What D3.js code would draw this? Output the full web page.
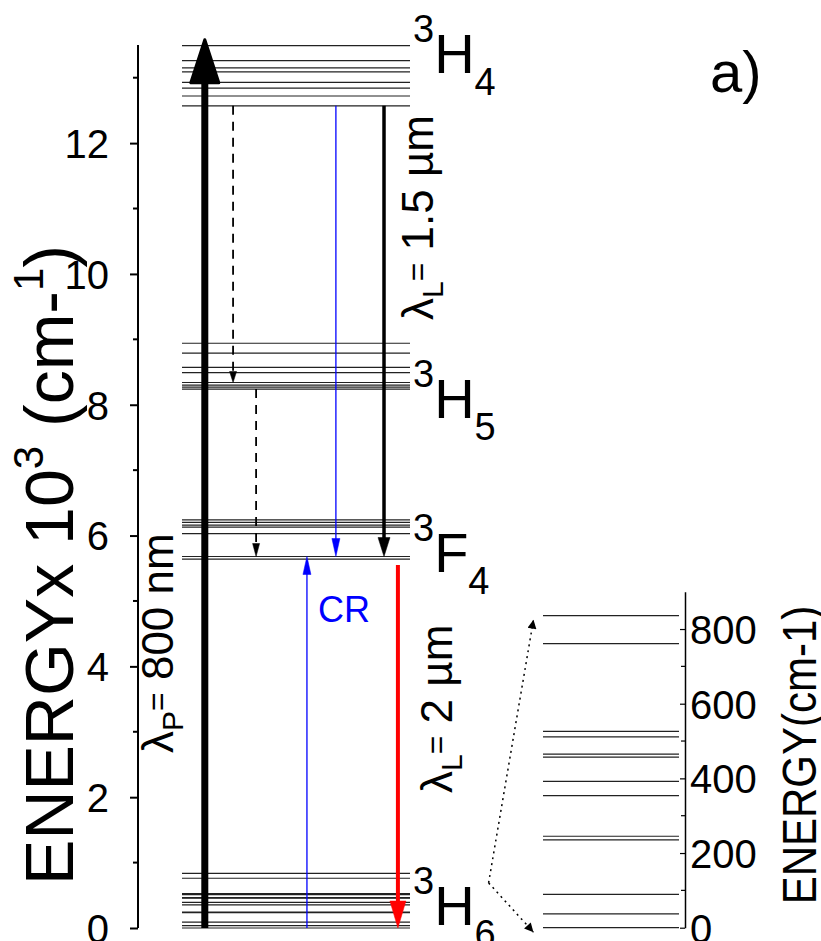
<!DOCTYPE html>
<html>
<head>
<meta charset="utf-8">
<style>
  html, body { margin: 0; padding: 0; background: #fff; }
  svg text { font-family: "Liberation Sans", Arial, sans-serif; fill: #000; }
  .axis path, .axis line { stroke: #000; }
  .axis text { font-family: "Liberation Sans", Arial, sans-serif; }
</style>
<script src="https://cdn.jsdelivr.net/npm/d3@7"></script>
</head>
<body>
<div id="main"></div>
<script>
// energy levels in cm-1
var levelsH6 = [0, 37, 89, 235, 245, 354, 392, 457, 465, 511, 526, 761, 836];
var levelsF4 = [5640, 5680, 6030, 6130, 6160, 6200, 6240];
var levelsH5 = [8240, 8270, 8300, 8340, 8490, 8570, 8790, 8940];
var levelsH4 = [12570, 12720, 12840, 12930, 13090, 13150, 13260, 13490];

var mainTicks = [0, 2, 4, 6, 8, 10, 12];
var mainMinor = [1, 3, 5, 7, 9, 11, 13];
var insetTicks = [0, 200, 400, 600, 800];
var insetMinor = [100, 300, 500, 700];

// term labels: [sup, letter, sub, energy x10^3 of baseline]
var terms = [
  ["3", "H", "4", 13.07],
  ["3", "H", "5", 7.80],
  ["3", "F", "4", 5.44],
  ["3", "H", "6", 0.05]
];

// transitions: position across the level (0..1), from, to (x10^3 cm-1)
var transitions = [
  {name: "pump",  pos: 0.10,  from: 0,     to: 13.58, color: "#000",    w: 7,   head: [43, 28], dash: null},
  {name: "nr1",   pos: 0.224, from: 12.57, to: 8.34,  color: "#000",    w: 1.8, head: [11, 7],  dash: "9,7"},
  {name: "nr2",   pos: 0.325, from: 8.24,  to: 5.68,  color: "#000",    w: 1.8, head: [13, 7],  dash: "9,7"},
  {name: "crDn",  pos: 0.675, from: 12.57, to: 5.68,  color: "#0000ff", w: 1.3, head: [18, 8],  dash: null},
  {name: "las15", pos: 0.886, from: 12.57, to: 5.68,  color: "#000",    w: 3.5, head: [19, 12], dash: null},
  {name: "crUp",  pos: 0.548, from: 0,     to: 5.68,  color: "#0000ff", w: 1.3, head: [18, 8],  dash: null},
  {name: "las2",  pos: 0.947, from: 5.55,  to: 0,     color: "#ff0000", w: 4,   head: [27, 16], dash: null}
];

var width = 821, height = 941;

var svg = d3.select("#main").append("svg")
  .attr("width", width).attr("height", height);

var y = d3.scaleLinear().domain([0, 13.5]).range([928, 45]);
var x = d3.scaleLinear().domain([0, 1]).range([182, 410]);
var yIn = d3.scaleLinear().domain([0, 900]).range([927.7, 591.7]);
var xIn = d3.scaleLinear().domain([0, 1]).range([543, 679]);

// main axis
var axisX = 138;
var gAx = svg.append("g").attr("class", "axis")
  .attr("transform", "translate(" + axisX + ",0)");
gAx.call(d3.axisLeft(y).tickValues(mainTicks).tickSize(8).tickPadding(21)
  .tickFormat(d3.format("d")));
gAx.select(".domain").attr("d", "M0," + y(13.5) + "V" + y(0)).attr("stroke-width", 2);
gAx.selectAll(".tick line").attr("stroke-width", 2);
gAx.selectAll(".tick text").attr("font-size", 40).attr("dy", "0.36em");
gAx.selectAll(".minor").data(mainMinor).enter().append("line")
  .attr("class", "minor")
  .attr("x1", -5).attr("x2", 0)
  .attr("y1", function(d) { return y(d); })
  .attr("y2", function(d) { return y(d); })
  .attr("stroke", "#000").attr("stroke-width", 2);

// main axis title
var title = svg.append("text")
  .attr("transform", "translate(73,565) rotate(-90)")
  .attr("text-anchor", "middle")
  .attr("font-size", 68);
title.append("tspan").text("ENERGYx 10");
title.append("tspan").attr("font-size", 42).attr("dy", -30).text("3");
title.append("tspan").attr("dy", 30).text(" (cm-");
title.append("tspan").attr("font-size", 42).attr("dy", -30).text("1");
title.append("tspan").attr("dy", 30).text(")");

// levels
var allLevels = [].concat(levelsH6, levelsF4, levelsH5, levelsH4);
svg.append("g").selectAll("line").data(allLevels).enter().append("line")
  .attr("x1", x(0)).attr("x2", x(1))
  .attr("y1", function(d) { return y(d / 1000); })
  .attr("y2", function(d) { return y(d / 1000); })
  .attr("stroke", "#222").attr("stroke-width", 1.2);

// transitions
function arrow(t) {
  var xp = x(t.pos);
  var y0 = y(t.from), y1 = y(t.to);
  var dir = y1 < y0 ? -1 : 1;
  var len = t.head[0], hw = t.head[1] / 2;
  var g = svg.append("g");
  g.append("line")
    .attr("x1", xp).attr("x2", xp)
    .attr("y1", y0).attr("y2", y1 - dir * len * 0.8)
    .attr("stroke", t.color).attr("stroke-width", t.w)
    .attr("stroke-dasharray", t.dash);
  g.append("path")
    .attr("d", "M" + xp + "," + y1 + "L" + (xp - hw) + "," + (y1 - dir * len) +
      "L" + (xp + hw) + "," + (y1 - dir * len) + "Z")
    .attr("fill", t.color).attr("stroke", t.color)
    .attr("stroke-linejoin", "round")
    .attr("stroke-width", t.name == "pump" ? 3 : 0.5);
}
transitions.forEach(arrow);

// term labels
terms.forEach(function(t) {
  var tx = svg.append("text").attr("x", 413).attr("y", y(t[3]));
  tx.append("tspan").attr("font-size", 38).attr("dy", -31).text(t[0]);
  tx.append("tspan").attr("font-size", 56).attr("dy", 31).text(t[1]);
  tx.append("tspan").attr("font-size", 38).attr("dy", 22).text(t[2]);
});

// wavelength labels
function lambdaLabel(tx, ty, sub, rest) {
  var t = svg.append("text")
    .attr("transform", "translate(" + tx + "," + ty + ") rotate(-90)")
    .attr("font-size", 44);
  t.append("tspan").text("\u03bb");
  t.append("tspan").attr("font-size", 30).attr("dy", 10).text(sub);
  t.append("tspan").attr("font-size", 32).attr("dy", -15).text("=");
  t.append("tspan").attr("dy", 5).text(rest);
}
lambdaLabel(433, 320, "L", " 1.5 \u00b5m");
lambdaLabel(452, 793, "L", " 2 \u00b5m");
lambdaLabel(173, 753, "P", " 800 nm");

svg.append("text").attr("x", 318).attr("y", 622)
  .attr("font-size", 36).style("fill", "#0000ff").text("CR");

svg.append("text").attr("x", 710).attr("y", 92)
  .attr("font-size", 58).text("a)");

// inset levels
svg.append("g").selectAll("line").data(levelsH6).enter().append("line")
  .attr("x1", xIn(0)).attr("x2", xIn(1))
  .attr("y1", function(d) { return yIn(d); })
  .attr("y2", function(d) { return yIn(d); })
  .attr("stroke", "#222").attr("stroke-width", 1.2);

// inset axis
var gIn = svg.append("g").attr("class", "axis")
  .attr("transform", "translate(685,0)");
gIn.call(d3.axisRight(yIn).tickValues(insetTicks).tickSizeInner(-5)
  .tickSizeOuter(0).tickPadding(5));
gIn.select(".domain").attr("stroke-width", 1.5);
gIn.selectAll(".tick line").attr("stroke-width", 1.2);
gIn.selectAll(".tick text").attr("font-size", 40).attr("dy", "0.36em");
gIn.selectAll(".minor").data(insetMinor).enter().append("line")
  .attr("class", "minor")
  .attr("x1", -4).attr("x2", 0)
  .attr("y1", function(d) { return yIn(d); })
  .attr("y2", function(d) { return yIn(d); })
  .attr("stroke", "#000").attr("stroke-width", 1.2);

svg.append("text")
  .attr("transform", "translate(816,755) rotate(-90) scale(1,1.15)")
  .attr("text-anchor", "middle")
  .attr("font-size", 42)
  .text("ENERGY(cm-1)");

// dotted zoom arrows
var zoomStart = [-0.40, 120];
var zoomEnds = [[-0.07, 825], [-0.07, -12]];
svg.append("defs").append("marker")
  .attr("id", "dothead").attr("viewBox", "0 0 10 10")
  .attr("refX", 10).attr("refY", 5)
  .attr("markerWidth", 15).attr("markerHeight", 9)
  .attr("markerUnits", "userSpaceOnUse")
  .attr("orient", "auto")
  .append("path").attr("d", "M0,0L10,5L0,10Z").attr("fill", "#000");
var line = d3.line().x(function(d) { return xIn(d[0]); }).y(function(d) { return yIn(d[1]); });
zoomEnds.forEach(function(e) {
  svg.append("path").attr("d", line([zoomStart, e]))
    .attr("fill", "none").attr("stroke", "#000").attr("stroke-width", 1.5)
    .attr("stroke-dasharray", "2,4")
    .attr("marker-end", "url(#dothead)");
});
</script>
</body>
</html>
